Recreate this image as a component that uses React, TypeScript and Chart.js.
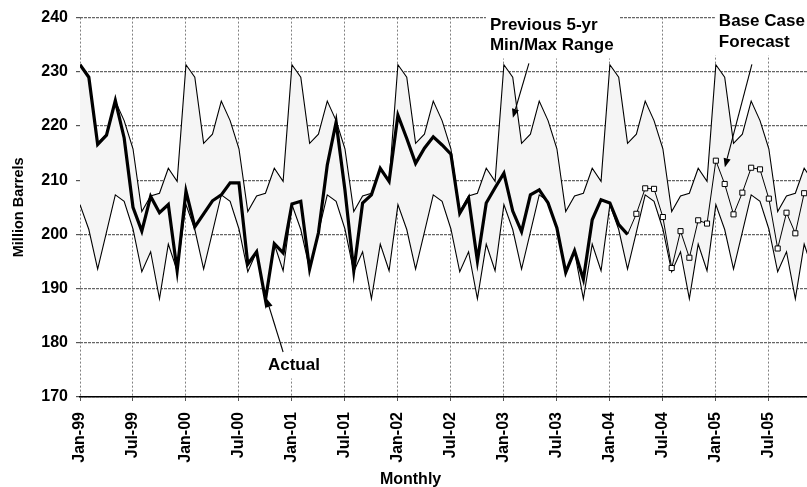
import { useEffect, useRef } from 'react';
import { Chart, registerables } from 'chart.js';

Chart.register(...registerables);

const FONT = '"Liberation Sans", Arial, Helvetica, sans-serif';

// x axis: month index from Jan-99 (0) to Dec-05 (83)
const tickMonths = [0, 6, 12, 18, 24, 30, 36, 42, 48, 54, 60, 66, 72, 78];
const tickLabels = [
  'Jan-99', 'Jul-99', 'Jan-00', 'Jul-00', 'Jan-01', 'Jul-01', 'Jan-02',
  'Jul-02', 'Jan-03', 'Jul-03', 'Jan-04', 'Jul-04', 'Jan-05', 'Jul-05',
];
const yTicks = [170, 180, 190, 200, 210, 220, 230, 240];

// Actual inventories, Jan-99 .. Mar-04
const actual = [
  231.3, 229.0, 216.6, 218.3, 224.7, 217.8, 205.0, 200.6, 207.0, 204.0, 205.5, 193.3,
  208.0, 201.4, 203.8, 206.2, 207.3, 209.5, 209.5, 194.5, 196.8, 187.9, 198.3, 196.6,
  205.6, 206.1, 193.6, 200.3, 212.8, 220.7, 208.2, 193.3, 205.8, 207.3, 212.2, 209.8,
  222.0, 217.7, 213.1, 215.9, 218.0, 216.5, 214.8, 203.9, 206.7, 195.1, 205.8, 208.6,
  211.3, 204.3, 200.5, 207.3, 208.2, 205.8, 201.2, 193.0, 197.0, 191.7, 202.7, 206.4,
  205.8, 201.8, 200.0,
];

// Base case forecast, starting at Mar-04 (month 62)
const forecastStart = 62;
const forecast = [
  200.0, 203.8, 208.5, 208.4, 203.2, 193.8, 200.6, 195.7, 202.6, 202.0,
  213.6, 209.3, 203.7, 207.7, 212.3, 212.0, 206.6, 197.4, 204.0, 200.2, 207.6,
];

// Previous 5-yr max, Jan-99 .. Dec-05
const rangeMax = [
  231.3, 229.0, 216.8, 218.5, 224.6, 221.0, 215.8, 204.2, 207.1, 207.6, 212.2, 209.8,
  231.3, 229.0, 216.8, 218.5, 224.6, 221.0, 215.8, 204.2, 207.1, 207.6, 212.2, 209.8,
  231.3, 229.0, 216.8, 218.5, 224.6, 221.0, 215.8, 204.2, 207.1, 207.6, 212.2, 209.8,
  231.3, 229.0, 216.8, 218.5, 224.6, 221.0, 215.8, 204.2, 207.1, 207.6, 212.2, 209.8,
  231.3, 229.0, 216.8, 218.5, 224.6, 221.0, 215.8, 204.2, 207.1, 207.6, 212.2, 209.8,
  231.3, 229.0, 216.8, 218.5, 224.6, 221.0, 215.8, 204.2, 207.1, 207.6, 212.2, 209.8,
  231.3, 229.0, 216.8, 218.5, 224.6, 221.0, 215.8, 204.2, 207.1, 207.6, 212.2, 209.8,
];

// Previous 5-yr min, Jan-99 .. Dec-05
const rangeMin = [
  205.5, 200.9, 193.6, 200.4, 207.3, 206.1, 201.0, 193.1, 196.8, 188.1, 198.2, 193.3,
  205.5, 200.9, 193.6, 200.4, 207.3, 206.1, 201.0, 193.1, 196.8, 188.1, 198.2, 193.3,
  205.5, 200.9, 193.6, 200.4, 207.3, 206.1, 201.0, 193.1, 196.8, 188.1, 198.2, 193.3,
  205.5, 200.9, 193.6, 200.4, 207.3, 206.1, 201.0, 193.1, 196.8, 188.1, 198.2, 193.3,
  205.5, 200.9, 193.6, 200.4, 207.3, 206.1, 201.0, 193.1, 196.8, 188.1, 198.2, 193.3,
  205.5, 200.9, 193.6, 200.4, 207.3, 206.1, 201.0, 193.1, 196.8, 188.1, 198.2, 193.3,
  205.5, 200.9, 193.6, 200.4, 207.3, 206.1, 201.0, 193.1, 196.8, 188.1, 198.2, 193.3,
];

// Annotations anchored in data coordinates (month index, value)
const notes = [
  {
    lines: ['Previous 5-yr', 'Min/Max Range'],
    at: [46.42, 237.8],
    gap: 20,
    boxToTop: true,
    arrow: [[50.83, 231.57], [49.02, 221.5]],
  },
  {
    lines: ['Base Case', 'Forecast'],
    at: [72.34, 238.53],
    gap: 21,
    boxToTop: true,
    arrow: [[76.08, 231.39], [73.02, 212.37]],
  },
  {
    lines: ['Actual'],
    at: [21.28, 175.07],
    gap: 20,
    boxToTop: false,
    arrow: [[23.0, 178.3], [21.11, 188.24]],
  },
];
const xTitle = 'Monthly';
const xTitleAt = 33.96;

function drawArrow(ctx: CanvasRenderingContext2D, x1: number, y1: number, x2: number, y2: number) {
  const ang = Math.atan2(y2 - y1, x2 - x1);
  const len = 9;
  const hw = 3.6;
  const bx = x2 - Math.cos(ang) * len;
  const by = y2 - Math.sin(ang) * len;
  ctx.beginPath();
  ctx.lineWidth = 1.1;
  ctx.moveTo(x1, y1);
  ctx.lineTo(bx, by);
  ctx.stroke();
  ctx.beginPath();
  ctx.moveTo(x2, y2);
  ctx.lineTo(bx + Math.sin(ang) * hw, by - Math.cos(ang) * hw);
  ctx.lineTo(bx - Math.sin(ang) * hw, by + Math.cos(ang) * hw);
  ctx.closePath();
  ctx.fill();
}

const notesPlugin = {
  id: 'notesPlugin',
  beforeDatasetsDraw(chart: any) {
    const { ctx } = chart;
    const xs = chart.scales.x;
    const ys = chart.scales.y;
    ctx.save();
    ctx.font = `bold 17px ${FONT}`;
    ctx.fillStyle = '#ffffff';
    for (const n of notes) {
      const x = xs.getPixelForValue(n.at[0]);
      const y0 = ys.getPixelForValue(n.at[1]);
      const w = Math.max(...n.lines.map((l) => ctx.measureText(l).width));
      const lastBase = y0 + (n.lines.length - 1) * n.gap;
      const top = n.boxToTop ? 0 : y0 - 19;
      ctx.fillRect(x - 4, top, w + 10, lastBase + 9 - top);
    }
    ctx.restore();
  },
  afterDraw(chart: any) {
    const { ctx } = chart;
    const xs = chart.scales.x;
    const ys = chart.scales.y;
    ctx.save();
    ctx.fillStyle = '#000';
    ctx.strokeStyle = '#000';
    ctx.font = `bold 17px ${FONT}`;
    ctx.textAlign = 'left';
    ctx.textBaseline = 'alphabetic';
    for (const n of notes) {
      const x = xs.getPixelForValue(n.at[0]);
      const y0 = ys.getPixelForValue(n.at[1]);
      n.lines.forEach((t, i) => ctx.fillText(t, x, y0 + i * n.gap));
      const [a, b] = n.arrow;
      drawArrow(
        ctx,
        xs.getPixelForValue(a[0]),
        ys.getPixelForValue(a[1]),
        xs.getPixelForValue(b[0]),
        ys.getPixelForValue(b[1]),
      );
    }
    ctx.font = `bold 16px ${FONT}`;
    ctx.fillText(xTitle, xs.getPixelForValue(xTitleAt), chart.height - 3);
    ctx.restore();
  },
};

const CANVAS_W = 840;

export default function App() {
  const ref = useRef<HTMLCanvasElement | null>(null);

  useEffect(() => {
    if (!ref.current) return;
    const chart = new Chart(ref.current, {
      type: 'line',
      data: {
        datasets: [
          {
            label: 'Actual',
            data: actual.map((v, i) => ({ x: i, y: v })),
            borderColor: '#000',
            borderWidth: 3.2,
            pointRadius: 0,
            tension: 0,
            fill: false,
          },
          {
            label: 'Base Case Forecast',
            data: forecast.map((v, i) => ({ x: i + forecastStart, y: v })),
            borderColor: '#000',
            borderWidth: 1,
            pointStyle: 'rect',
            pointRadius: (c: any) => (c.dataIndex === 0 ? 0 : 3.6),
            pointBackgroundColor: '#fff',
            pointBorderColor: '#000',
            pointBorderWidth: 1,
            tension: 0,
            fill: false,
          },
          {
            label: 'Previous 5-yr Max',
            data: rangeMax.map((v, i) => ({ x: i, y: v })),
            borderColor: '#000',
            borderWidth: 1.1,
            pointRadius: 0,
            tension: 0,
            fill: '+1',
            backgroundColor: '#f5f5f5',
          },
          {
            label: 'Previous 5-yr Min',
            data: rangeMin.map((v, i) => ({ x: i, y: v })),
            borderColor: '#000',
            borderWidth: 1.1,
            pointRadius: 0,
            tension: 0,
            fill: false,
          },
        ],
      },
      options: {
        animation: false,
        responsive: true,
        maintainAspectRatio: false,
        layout: { padding: { top: 15, right: CANVAS_W - 813, bottom: 0, left: 0 } },
        plugins: {
          legend: { display: false },
          tooltip: { enabled: false },
          filler: { drawTime: 'beforeDatasetsDraw' },
        },
        scales: {
          x: {
            type: 'linear',
            min: 0,
            max: 83,
            afterBuildTicks: (ax: any) => {
              ax.ticks = tickMonths.map((v) => ({ value: v }));
            },
            afterFit: (s: any) => {
              s.height = 90;
            },
            ticks: {
              autoSkip: false,
              maxRotation: 90,
              minRotation: 90,
              padding: 11,
              color: '#000',
              font: { family: FONT, size: 16, weight: 'bold' },
              callback: (v: any) => {
                const k = tickMonths.indexOf(Number(v));
                return k >= 0 ? tickLabels[k] : '';
              },
            },
            grid: { color: '#808080', lineWidth: 1, tickLength: 4, tickColor: '#555' },
            border: { display: true, color: '#000', width: 1.5, dash: [2, 2] },
          },
          y: {
            min: 170,
            max: 240,
            afterBuildTicks: (ax: any) => {
              ax.ticks = yTicks.map((v) => ({ value: v }));
            },
            afterFit: (s: any) => {
              s.width = 80;
            },
            ticks: {
              padding: 8,
              color: '#000',
              font: { family: FONT, size: 16, weight: 'bold' },
            },
            grid: { color: '#666', lineWidth: 1.2, tickLength: 4, tickColor: '#555' },
            border: { display: false, dash: [3, 1] },
            title: {
              display: true,
              text: 'Million Barrels',
              color: '#000',
              font: { family: FONT, size: 14.5, weight: 'bold' },
              padding: { top: 10, bottom: 0 },
            },
          },
        },
      },
      plugins: [notesPlugin],
    } as any);
    return () => chart.destroy();
  }, []);

  return (
    <div
      style={{
        position: 'fixed',
        left: 0,
        top: 0,
        width: 807,
        height: 487,
        overflow: 'hidden',
        background: '#fff',
      }}
    >
      <div style={{ position: 'relative', width: CANVAS_W, height: 487 }}>
        <canvas ref={ref} />
      </div>
    </div>
  );
}
